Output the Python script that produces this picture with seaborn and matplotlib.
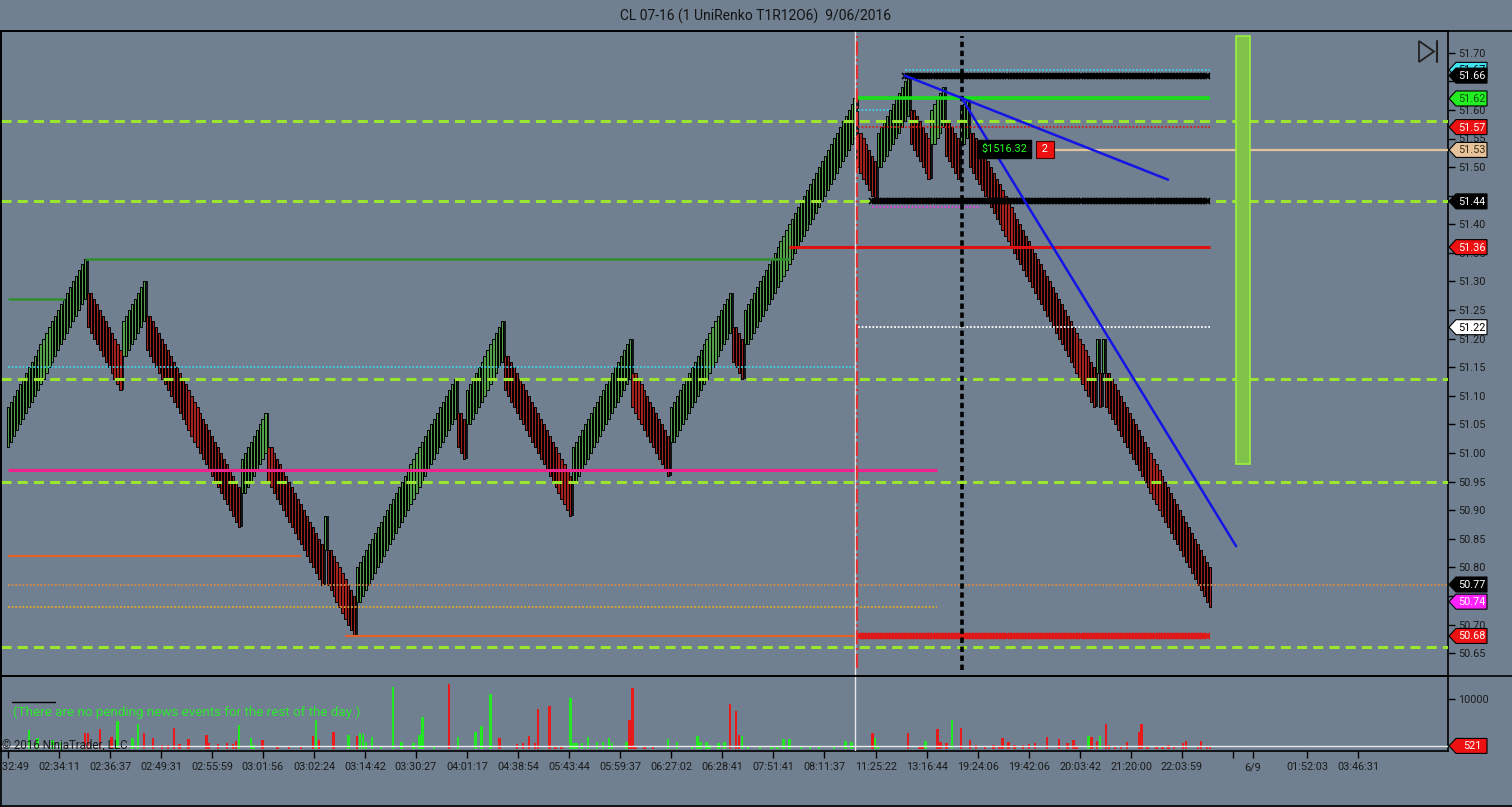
import numpy as np
import pandas as pd
import seaborn as sns
import matplotlib.pyplot as plt
from matplotlib.patches import Polygon, Rectangle
from matplotlib.lines import Line2D
from matplotlib.transforms import IdentityTransform

# swing closes of the UniRenko bricks (T1 R12 O6), one tick = 0.01
swing_closes = [51.08, 51.34, 51.11, 51.30, 50.87, 51.07, 50.77, 50.89, 50.68,
                51.13, 50.99, 51.23, 50.89, 51.20, 50.96, 51.28, 51.13, 51.62,
                51.44, 51.66, 51.48, 51.64, 51.48, 51.62, 51.08, 51.20, 51.08,
                51.20, 50.73]

# x axis time labels (bar index where each label sits)
tick_bars = [0, 17.2, 34.5, 51.7, 69.0, 86.1, 103.4, 120.6, 137.8, 155.1, 172.3,
             189.5, 206.8, 224.0, 241.2, 258.4, 275.7, 293.2, 310.5, 327.7, 344.9,
             362.2, 379.4, 396.6, 413.9, 420.6, 438.9, 456.1]
tick_labels = ["02:32:49", "02:34:11", "02:36:37", "02:49:31", "02:55:59", "03:01:56",
               "03:02:24", "03:14:42", "03:30:27", "04:01:17", "04:38:54", "05:43:44",
               "05:59:37", "06:27:02", "06:28:41", "07:51:41", "08:11:37", "11:25:22",
               "13:16:44", "19:24:06", "19:42:06", "20:03:42", "21:20:00", "22:03:59",
               "", "6/9", "01:52:03", "03:46:31"]
price_ticks = np.round(np.arange(50.65, 51.701, 0.05), 2)
hidden_ticks = [51.65, 51.45, 50.75]  # covered by the price markers

# volume per bar: bar index, contracts, side (g = up, r = down)
vol_bar = [7, 10, 15, 18, 26, 27, 31, 35, 37, 42,
           44, 46, 49, 52, 54, 56, 58, 61, 67, 68,
           71, 74, 76, 77, 78, 82, 83, 86, 91, 95,
           99, 103, 104, 105, 110, 115, 118, 119, 120, 121,
           123, 126, 130, 133, 137, 139, 140, 144, 149, 152,
           158, 160, 163, 166, 172, 174, 176, 178, 179, 183,
           185, 187, 190, 191, 192, 194, 196, 199, 201, 203,
           204, 209, 210, 211, 212, 215, 218, 223, 226, 231,
           233, 234, 236, 237, 240, 242, 244, 246, 247, 248,
           250, 254, 258, 260, 262, 264, 268, 271, 274, 279,
           283, 285, 292, 293, 294, 304, 308, 309, 310, 314,
           315, 317, 319, 322, 325, 327, 330, 333, 335, 336,
           338, 340, 343, 345, 347, 351, 355, 358, 360, 361,
           365, 366, 368, 369, 371, 372, 374, 376, 378, 382,
           383, 385, 388, 390, 392, 394, 397, 398, 402, 403,
           405, 406]
vol_size = [3740, 2060, 1720, 1380, 3200, 3200, 3870, 2390, 5620, 2060,
            4950, 3060, 2060, 700, 700, 4070, 900, 1850, 2730, 1050,
            900, 1050, 900, 1580, 4750, 2060, 700, 1720, 500, 500,
            500, 2530, 5760, 1720, 3400, 2730, 2530, 3060, 2930, 1380,
            2390, 600, 12480, 1380, 1050, 2730, 6420, 600, 13030, 2390,
            3400, 4550, 11000, 2060, 900, 1170, 2530, 1170, 7920, 8590,
            500, 500, 10130, 1170, 1050, 1050, 2390, 1380, 1380, 2060,
            1170, 1380, 5760, 12160, 400, 400, 400, 1920, 1380, 500,
            2530, 1380, 1380, 800, 1170, 1380, 8990, 7640, 2730, 2530,
            400, 400, 400, 400, 1920, 1920, 500, 500, 500, 400,
            1520, 1380, 3060, 2060, 600, 3060, 500, 500, 1580, 3870,
            1380, 1170, 5760, 4070, 1720, 700, 600, 700, 500, 2060,
            1380, 800, 700, 900, 1050, 2390, 1920, 1170, 1720, 500,
            2530, 2390, 1520, 2600, 4950, 700, 500, 600, 1380, 3400,
            4950, 500, 600, 500, 700, 500, 1050, 1520, 500, 1520,
            600, 521]
vol_side = list("ggggrrrrgg" "grrrrrrrrr" "rrrrgggrrr" "rrgrrgrggg" "ggggggggrg"
                "gggrrrrrrr" "rrgggggggg" "ggrrrrrggg" "ggggggrrrg" "gggggggggg"
                "ggrggrrrgr" "rrgrrrrrrr" "rrrrrrrrrr" "grrgrrrrrr" "rrrrrrrrrr"
                "rr")

# drawn levels: price, first bar, last bar (None = to the right edge)
lime_levels = [51.58, 51.44, 51.13, 50.95, 50.66]
level_lines = {
    "pink": (50.97, 0, 314), "green_hi": (51.34, 26, 264), "green_lo": (51.27, 0, 19),
    "orange_hi": (50.82, 0, 99), "orange_lo": (50.68, 114, 287),
    "red_level": (51.36, 264, 406), "green_level": (51.62, 287, 406),
    "tan": (51.53, 353, None),
}
dotted_lines = {
    "cyan_lo": (51.15, 0, 286), "cyan_hi": (51.67, 303, 406), "cyan_mid": (51.60, 287, 298),
    "orange_dot": (50.77, 0, None), "gold_dot": (50.73, 0, 314), "red_dot": (51.57, 287, 406),
    "white_dot": (51.22, 287, 406), "magenta_dot": (51.43, 292, 328),
}
hatched_lines = [(51.66, 303, 406, "black"), (51.44, 292, 406, "black"), (50.68, 287, 406, "#e01818")]
trend_lines = pd.DataFrame({"line": [0, 0, 1, 1],
                            "bar": [303.0, 391.9, 322.3, 414.9],
                            "price": [51.66, 51.478, 51.62, 50.837]})
session_bar = 286.1
cursor_bar = 322.3
target_zone = (414.9, 419.6, 50.98, 51.729)

tag_price = [51.67, 51.66, 51.62, 51.57, 51.53, 51.44, 51.36, 51.22, 50.77, 50.74, 50.68]
tag_bg = ["#3fe3f2", "black", "#22ee22", "#ee1111", "#e6c39a", "black", "#ee1111",
          "white", "black", "#ff22ff", "#ee1111"]
tag_fg = ["black", "white", "#0c4d0c", "white", "#3a2c18", "white", "white", "black",
          "white", "white", "white"]
last_volume = 521
pnl_text, pnl_qty = "$1516.32", "2"


def build_bricks(closes, tick=0.01, reversal=12, offset=6):
    t = [int(round(c / tick)) for c in closes]
    rows = [dict(open=t[0] - offset - 1, close=t[0], high=t[0], low=t[0] - offset - 1)]
    direction = 1 if t[1] > t[0] else -1
    last = t[0]
    for target in t[1:]:
        step = 1 if target > last else -1
        if step != direction:
            c = last + step * reversal
            o = c - step * offset
            rows.append(dict(open=o, close=c, high=max(last, o, c), low=min(last, o, c)))
            direction, last = step, c
        while last != target:
            c = last + step
            o = c - step * (offset + 1)
            rows.append(dict(open=o, close=c, high=max(o, c), low=min(o, c)))
            last = c
    df = pd.DataFrame(rows) * tick
    df["bar"] = np.arange(len(df))
    df["up"] = df["close"] > df["open"]
    return df


bricks = build_bricks(swing_closes)

sns.set_theme(style="ticks", rc={"axes.facecolor": "#708090", "figure.facecolor": "#708090"})
plt.rcParams["font.family"] = ["Roboto", "DejaVu Sans"]

W, H = 1512, 807
fig = plt.figure(figsize=(W / 100, H / 100), dpi=100)


def frac(x0, y0, x1, y1):
    return [x0 / W, 1 - y1 / H, (x1 - x0) / W, (y1 - y0) / H]


ax = fig.add_axes(frac(1, 31, 1448, 676))
axv = fig.add_axes(frac(1, 676, 1448, 751), sharex=ax)

bar_px, first_px = 2.96, 8
x_min, x_max = (1 - first_px) / bar_px, (1448 - first_px) / bar_px
ax.set_xlim(x_min, x_max)
ax.set_ylim(50.610, 51.738)
axv.set_ylim(-505, 14650)

for a in (ax, axv):
    a.set_facecolor("#708090")
    for s in a.spines.values():
        s.set_color("black")
        s.set_linewidth(1.2)

# candles
body = bricks["close"] - bricks["open"]
colors = np.where(bricks["up"], "#52a048", "#a3201c")
ax.vlines(bricks["bar"], bricks["low"], bricks["high"], color="black", lw=1.2, zorder=2)
ax.bar(bricks["bar"], body, bottom=bricks["open"], width=0.74, color=colors,
       edgecolor="black", linewidth=0.7, zorder=2)

# levels
for p in lime_levels:
    ax.axhline(p, color="#9ae62e", lw=2.2, dashes=(3.3, 2.0), zorder=3)
styles = {"pink": ("#f0208f", 2.2), "green_hi": ("#2f8f2f", 1.8), "green_lo": ("#2f8f2f", 1.8),
          "orange_hi": ("#e2612b", 1.6), "orange_lo": ("#e2612b", 1.6),
          "red_level": ("#e01010", 2.2), "green_level": ("#18e018", 2.6), "tan": ("#e3c49c", 1.6)}
for key, (p, b0, b1) in level_lines.items():
    col, lw = styles[key]
    ax.hlines(p, b0, x_max if b1 is None else b1, color=col, lw=lw, zorder=3)
dstyles = {"cyan_lo": "#3fd0e8", "cyan_hi": "#3fd0e8", "cyan_mid": "#3fd0e8",
           "orange_dot": "#d98a48", "gold_dot": "#e0a830", "red_dot": "#d02020",
           "white_dot": "white", "magenta_dot": "#e040e0"}
for key, (p, b0, b1) in dotted_lines.items():
    ax.hlines(p, b0, x_max if b1 is None else b1, color=dstyles[key], lw=1.3,
              linestyles=(0, (1, 1)), zorder=3)
for p, b0, b1, col in hatched_lines:
    ax.hlines(p, b0, b1, color=col, lw=2.6, zorder=3)
    xs = np.arange(b0, b1, 1.0)
    ax.plot(xs, np.full(len(xs), p), ls="none", marker="x", ms=4.0, mew=1.2, color=col, zorder=3)

ax.axvline(session_bar, color="#e8e8e8", lw=1, zorder=3)
axv.axvline(session_bar, color="#e8e8e8", lw=1, zorder=3)
ax.vlines(session_bar + 0.7, 50.624, 51.729, color="#e03030", lw=1.6, linestyles="-.", zorder=3)
ax.vlines(cursor_bar, 50.621, 51.729, color="black", lw=2.6, linestyles=(0, (1.5, 1)), zorder=4)

sns.lineplot(data=trend_lines, x="bar", y="price", units="line", estimator=None, sort=False,
             color="#1414e6", lw=1.8, ax=ax, legend=False, zorder=4)

z0, z1, zlo, zhi = target_zone
ax.add_patch(Rectangle((z0, zlo), z1 - z0, zhi - zlo, facecolor="#80c24a", edgecolor="#9cf03c",
                       lw=1.2, zorder=3))

ax.text(336.5, 51.531, pnl_text, ha="center", va="center", fontsize=7.8, color="#22ff22",
        zorder=6, bbox=dict(boxstyle="square,pad=0.35", fc="black", ec="black"))
ax.text(350.2, 51.531, " " + pnl_qty + " ", ha="center", va="center", fontsize=7.8, color="white",
        zorder=6, bbox=dict(boxstyle="square,pad=0.3", fc="#ee1111", ec="#400000", lw=0.8))

ax.set_xlabel("")
ax.set_ylabel("")
ax.yaxis.tick_right()
ax.set_yticks(price_ticks)
ax.set_yticklabels(["" if p in hidden_ticks else f"{p:.2f}" for p in price_ticks])
ax.tick_params(axis="y", length=5, width=1, color="black", labelsize=7.8,
               labelcolor="#1a1a1a", pad=2)
ax.tick_params(axis="x", bottom=False, labelbottom=False)

# volume
vcol = ["#22e822" if s == "g" else "#e81a1a" for s in vol_side]
axv.bar(vol_bar, vol_size, width=0.8, color=vcol, linewidth=0, zorder=2)
axv.axhline(last_volume, color="#e8e8e8", lw=1, zorder=3)
axv.yaxis.tick_right()
axv.set_yticks([10000])
axv.set_yticklabels(["10000"])
axv.set_xticks(tick_bars)
axv.set_xticklabels(tick_labels)
axv.tick_params(axis="both", length=5, width=1, color="black", labelsize=7.8,
                labelcolor="#1a1a1a", pad=3)
axv.tick_params(axis="y", pad=2)

# window frame lines
ident = IdentityTransform()
for (x0, y0, x1, y1) in [(0, 31, W, 31), (0, 676, W, 676), (0, 806, W, 806), (1, 31, 1, 806)]:
    fig.add_artist(Line2D([x0, x1], [H - y0, H - y1], transform=ident, color="black", lw=1.2))


def price_tag(y, text, bg, fg):
    pts = [(1449, y), (1456, y + 7.5), (1487, y + 7.5), (1487, y - 7.5), (1456, y - 7.5)]
    fig.add_artist(Polygon(pts, closed=True, transform=ident, fc=bg, ec="black", lw=0.8, zorder=5))
    fig.text(1472, y - 0.5, text, transform=ident, ha="center", va="center", fontsize=7.8,
             color=fg, zorder=6)


for p, bg, fg in zip(tag_price, tag_bg, tag_fg):
    price_tag(ax.transData.transform((0, p))[1], f"{p:.2f}", bg, fg)
price_tag(axv.transData.transform((0, last_volume))[1], str(last_volume), "#ee1111", "white")

# skip-to-end button
fig.add_artist(Polygon([(1419, H - 41), (1419, H - 62), (1434, H - 51.5)], closed=True,
                       transform=ident, fill=False, ec="#202020", lw=1.3))
fig.add_artist(Line2D([1437, 1437], [H - 41, H - 62], transform=ident, color="#202020", lw=1.5))

fig.text(756 / W, 1 - 16 / H, "CL 07-16 (1 UniRenko T1R12O6)  9/06/2016", ha="center",
         va="center", fontsize=10, color="#141414")
fig.add_artist(Line2D([12, 55], [H - 702, H - 702], transform=ident, color="black", lw=1))
fig.text(13 / W, 1 - 712 / H, "(There are no pending news events for the rest of the day.)",
         va="center", fontsize=9.6, color="#2ee82e")
fig.text(2 / W, 1 - 745 / H, "\u00a9 2016 NinjaTrader, LLC", va="center", fontsize=8.3,
         color="#1a1a1a")

fig.savefig("out.png", dpi=100, facecolor=fig.get_facecolor())
